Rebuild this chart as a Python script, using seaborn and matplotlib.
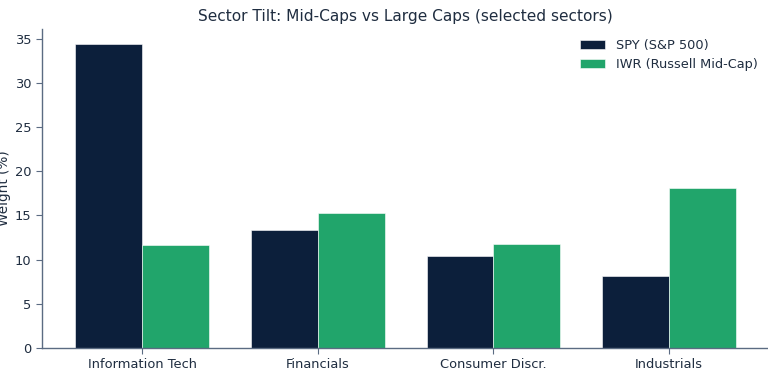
import matplotlib
matplotlib.use("Agg")
import matplotlib.pyplot as plt
import seaborn as sns
import pandas as pd

sectors = ["Information Tech", "Financials", "Consumer Discr.", "Industrials"]
spy = [34.4, 13.4, 10.4, 8.2]
iwr = [11.7, 15.3, 11.8, 18.1]
series_names = ["SPY (S&P 500)", "IWR (Russell Mid-Cap)"]

df = pd.DataFrame({
    "Sector": sectors * 2,
    "Weight": spy + iwr,
    "Fund": [series_names[0]] * len(sectors) + [series_names[1]] * len(sectors),
})

sns.set_style("white")
plt.rcParams["font.family"] = ["DejaVu Sans"]
text_c = "#1f2d40"
spine_c = "#5b6b82"

fig = plt.figure(figsize=(7.68, 3.79), dpi=100)
ax = fig.add_axes([0.0547, 0.0818, 0.947, 0.8417])
sns.barplot(data=df, x="Sector", y="Weight", hue="Fund", order=sectors,
            hue_order=series_names, palette=["#0c1f3b", "#21a56b"],
            width=0.76, ax=ax, errorbar=None, saturation=1,
            edgecolor="#ffffff", linewidth=0.4)
ax.set_ylim(0, 36.1)
ax.set_xlim(-0.57, 3.57)
ax.set_xlabel("")
ax.set_ylabel("Weight (%)", fontsize=9.8, color=text_c, labelpad=3)
ax.set_title("Sector Tilt: Mid-Caps vs Large Caps (selected sectors)", fontsize=11.1, color=text_c, pad=6)
for s in ["top", "right"]:
    ax.spines[s].set_visible(False)
for s in ["left", "bottom"]:
    ax.spines[s].set_color(spine_c)
    ax.spines[s].set_linewidth(1)
ax.tick_params(axis="both", colors=spine_c, labelcolor=text_c, labelsize=9.4, length=4, left=True, bottom=True)
leg = ax.legend(frameon=False, fontsize=9.3, loc="upper right", labelcolor=text_c,
                bbox_to_anchor=(1.0, 1.005))
fig.savefig("out.png", dpi=100)
